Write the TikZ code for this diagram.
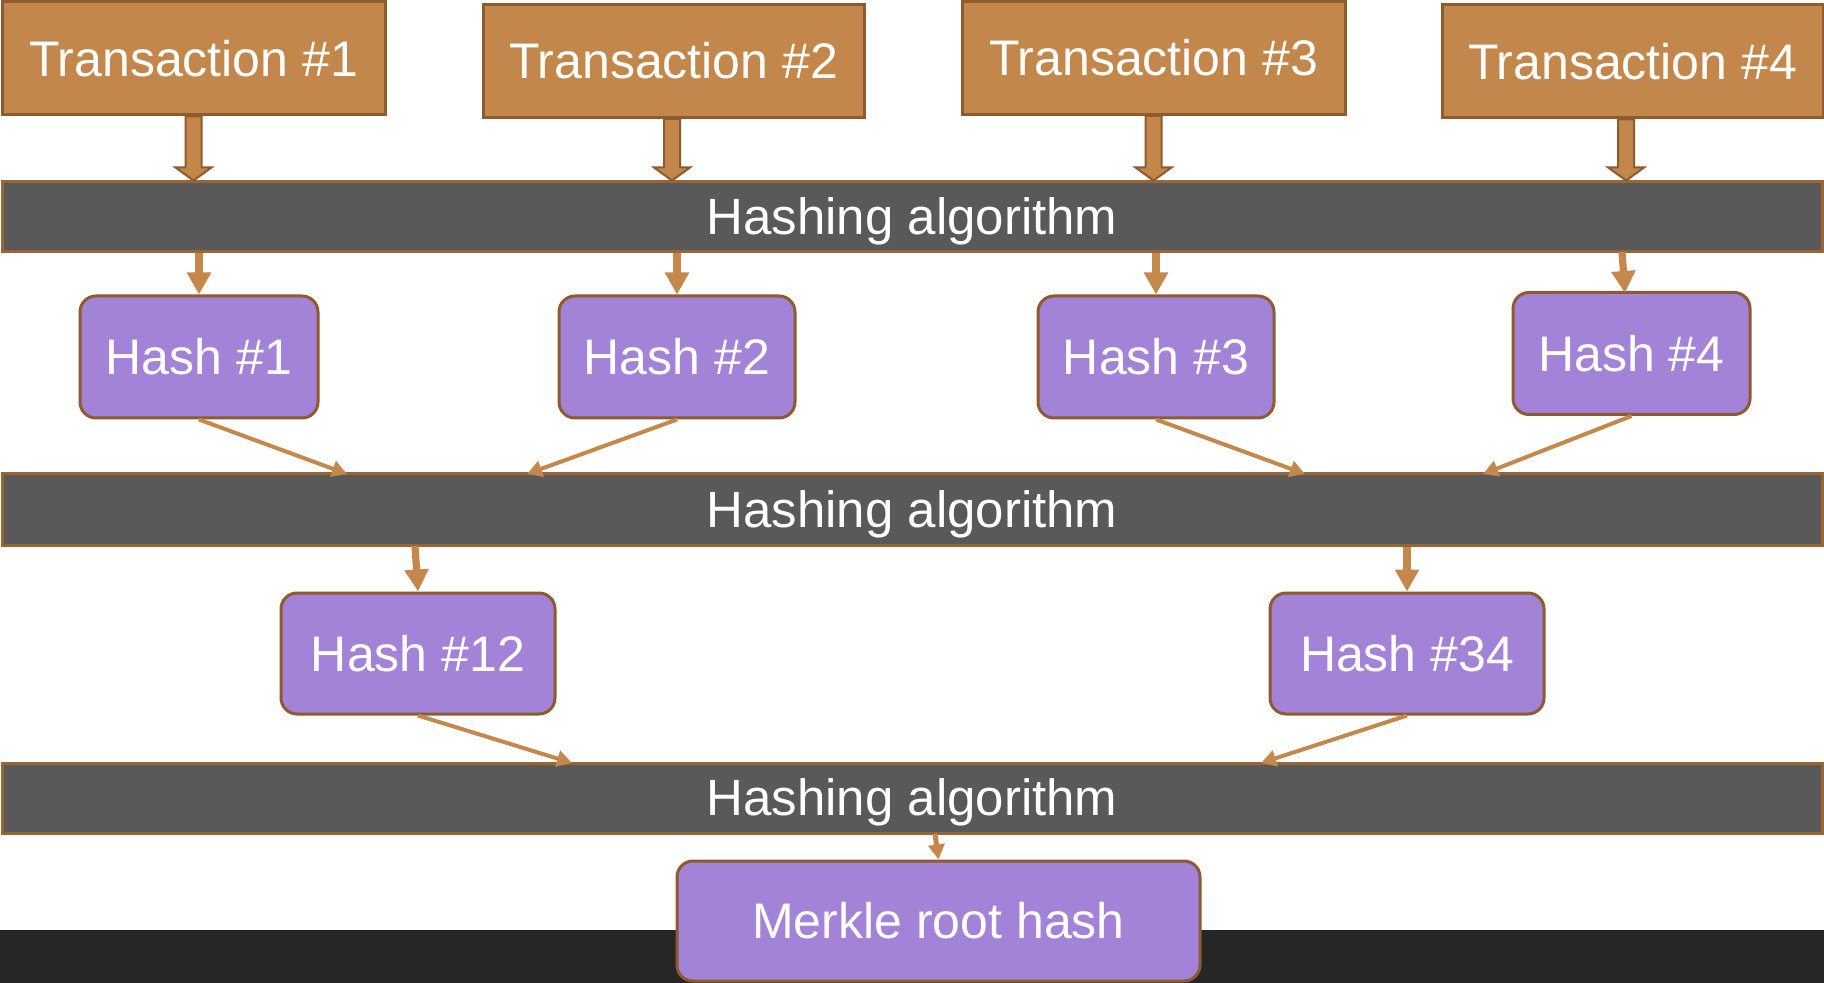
\documentclass[tikz,border=0pt]{standalone}
\usepackage{fontspec}
\setmainfont{Liberation Sans}
\usetikzlibrary{arrows.meta,calc}
\definecolor{txfill}{HTML}{C4874B}
\definecolor{txborder}{HTML}{8C5C2E}
\definecolor{bandfill}{HTML}{595959}
\definecolor{bandborder}{HTML}{9A6535}
\definecolor{hashfill}{HTML}{A383D7}
\definecolor{hashborder}{HTML}{8D5B2D}
\definecolor{arrowcol}{HTML}{C4884C}
\definecolor{darkbar}{HTML}{262626}
\tikzset{
  lbl/.style={text=white, font=\fontsize{25}{30}\selectfont, text height=17.9pt, text depth=0pt, inner sep=0pt},
  txbox/.style={lbl, draw=txborder, fill=txfill, line width=1.5pt, minimum width=191pt, minimum height=56.5pt},
  bandbox/.style={lbl, draw=bandborder, fill=bandfill, line width=1.5pt, minimum width=910pt, minimum height=35pt, font=\fontsize{25.5}{30}\selectfont},
  hashbox/.style={lbl, draw=hashborder, fill=hashfill, line width=1.5pt, rounded corners=8pt, minimum height=61pt},
  blockarr/.style={draw=txborder, fill=txfill, line width=1pt, line join=miter},
  thickarr/.style={draw=arrowcol, line width=3.6pt, -{Triangle[width=11.5pt,length=11pt]}},
  thinarr/.style={draw=arrowcol, line width=2pt, -{Triangle[width=8pt,length=7.5pt]}},
  rootarr/.style={draw=arrowcol, line width=2.5pt, -{Triangle[width=8pt,length=7.5pt]}},
}
\newcommand{\blockarrow}[2]{%
  \draw[blockarr] ($(#1)+(-8,0)$) -- ($(#2)+(-8,-13)$) -- ($(#2)+(-18,-13)$) -- (#2) -- ($(#2)+(18,-13)$) -- ($(#2)+(8,-13)$) -- ($(#1)+(8,0)$) -- cycle;}
\begin{document}
\begin{tikzpicture}[x=0.5pt,y=-0.5pt]
\useasboundingbox (0,0) rectangle (1824,983);
\fill[white] (0,0) rectangle (1824,983);
\fill[darkbar] (0,930) rectangle (1824,983);

% transactions
\node[txbox, minimum width=191.5pt] (t1) at (193.5,58.5) {Transaction \#1};
\node[txbox, minimum width=190.5pt] (t2) at (673.5,61) {Transaction \#2};
\node[txbox, minimum width=191.5pt] (t3) at (1153.5,58) {Transaction \#3};
\node[txbox, minimum width=190.5pt] (t4) at (1632.5,61.5) {Transaction \#4};

% bands
\node[bandbox] (b1) at (912,217) {Hashing algorithm};
\node[bandbox, minimum height=35.5pt] (b2) at (912,509.5) {Hashing algorithm};
\node[bandbox] (b3) at (912,798) {Hashing algorithm};

% hashes
\node[hashbox, minimum width=119pt] (h1) at (199,357) {Hash \#1};
\node[hashbox, minimum width=118pt] (h2) at (677,357) {Hash \#2};
\node[hashbox, minimum width=118pt] (h3) at (1156,357) {Hash \#3};
\node[hashbox, minimum width=118.5pt] (h4) at (1631.5,353.5) {Hash \#4};
\node[hashbox, minimum width=137pt, minimum height=60.5pt] (h12) at (418,653.5) {Hash \#12};
\node[hashbox, minimum width=137pt, minimum height=60.5pt] (h34) at (1407,653.5) {Hash \#34};
\node[hashbox, minimum width=261.5pt, minimum height=60pt] (m) at (938.5,921) {Merkle root hash};

% block arrows transaction -> band 1
\coordinate (s1) at (t1.south);
\coordinate (s2) at ([xshift=-0.75pt]t2.south);
\coordinate (s3) at (t3.south);
\coordinate (s4) at ([xshift=-3.2pt]t4.south);
\foreach \i in {1,2,3,4} {
  \coordinate (a\i) at (s\i |- b1.north);
  \blockarrow{s\i}{a\i}
}

% band 1 -> hashes
\foreach \i in {1,2,3} {
  \draw[thickarr] (h\i.north |- b1.south) -- (h\i.north);
}
\coordinate (p4) at (1622,252);
\coordinate (q4) at (1625,293);
\draw[thickarr] (p4) -- (q4);

% hashes -> band 2
\coordinate (c1) at (347,474);
\coordinate (c2) at (527,474);
\coordinate (c3) at (1305,474);
\coordinate (c4) at (1483,474);
\draw[thinarr] (h1.south) -- (c1);
\draw[thinarr] (h2.south) -- (c2);
\draw[thinarr] (h3.south) -- (c3);
\draw[thinarr] (h4.south) -- (c4);

% band 2 -> hash 12 / 34
\coordinate (r1) at (415,546);
\draw[thickarr] (r1) -- (h12.north);
\draw[thickarr] (h34.north |- b2.south) -- (h34.north);

% hash 12/34 -> band 3
\coordinate (d1) at (572,763);
\coordinate (d2) at (1261,763);
\draw[thinarr] (h12.south) -- (d1);
\draw[thinarr] (h34.south) -- (d2);

% band 3 -> merkle
\coordinate (e1) at (935,834);
\draw[rootarr] (e1) -- (m.north);
\end{tikzpicture}
\end{document}
